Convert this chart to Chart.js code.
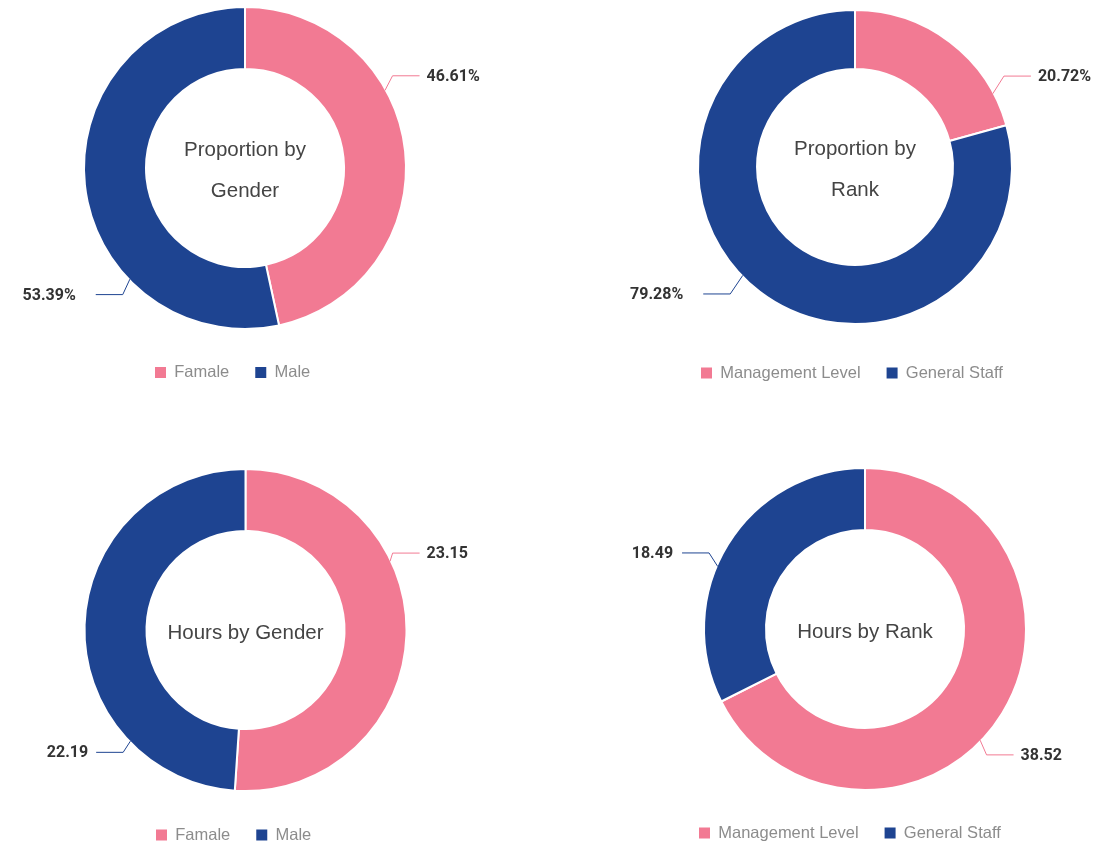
<!DOCTYPE html>
<html>
<head>
<meta charset="utf-8">
<script src="https://cdn.jsdelivr.net/npm/chart.js@4.4.0/dist/chart.umd.min.js"></script>
<style>
  html, body { margin: 0; padding: 0; background: #fff; overflow: hidden; }
  body { width: 1113px; height: 846px; position: relative; }
  .panel { position: absolute; }
  .panel canvas { display: block; }
</style>
</head>
<body>
<div class="panel" id="p1"><canvas id="genderShareChart"></canvas></div>
<div class="panel" id="p2"><canvas id="rankShareChart"></canvas></div>
<div class="panel" id="p3"><canvas id="genderHoursChart"></canvas></div>
<div class="panel" id="p4"><canvas id="rankHoursChart"></canvas></div>
<script>
// Data
const genderLabels = ['Famale', 'Male'];
const rankLabels = ['Management Level', 'General Staff'];
const genderShare = [46.61, 53.39];
const rankShare = [20.72, 79.28];
const genderHours = [23.15, 22.19];
const rankHours = [38.52, 18.49];

const PINK = '#f27a93';
const BLUE = '#1e4491';

// Centre text + leader-line labels
const donutExtras = {
    id: 'donutExtras',
    afterDatasetsDraw(chart, args, opts) {
        const ctx = chart.ctx;
        const meta = chart.getDatasetMeta(0);
        const ds = chart.data.datasets[0];
        const first = meta.data[0];
        if (!first) return;
        const cx = first.x, cy = first.y;

        ctx.save();
        ctx.fillStyle = '#444';
        ctx.font = '20.5px "Liberation Sans", Arial, sans-serif';
        ctx.textAlign = 'center';
        ctx.textBaseline = 'middle';
        const lines = opts.title;
        const lh = 41;
        lines.forEach((t, k) => {
            ctx.fillText(t, cx, cy + 3 + (k - (lines.length - 1) / 2) * lh);
        });

        meta.data.forEach((arc, i) => {
            const [aStart, aElbow, ext] = opts.angles[i];
            const r = arc.outerRadius - 1;
            const s = aStart * Math.PI / 180, e = aElbow * Math.PI / 180;
            const x1 = cx + r * Math.sin(s), y1 = cy - r * Math.cos(s);
            const x2 = cx + (r + ext) * Math.sin(e), y2 = cy - (r + ext) * Math.cos(e);
            const dir = Math.sin(e) >= 0 ? 1 : -1;
            const x3 = x2 + dir * 27;
            ctx.strokeStyle = ds.backgroundColor[i];
            ctx.lineWidth = 1;
            ctx.beginPath();
            ctx.moveTo(x1, y1);
            ctx.lineTo(x2, y2);
            ctx.lineTo(x3, y2);
            ctx.stroke();

            ctx.fillStyle = '#333';
            ctx.font = 'bold 16px Roboto, "DejaVu Sans Condensed", sans-serif';
            ctx.textAlign = dir > 0 ? 'left' : 'right';
            const gap = dir > 0 ? 7 : opts.leftGap;
            ctx.fillText(opts.format(ds.data[i]), x3 + dir * gap, y2 + 1);
        });
        ctx.restore();
    }
};

function makeDonut(canvasId, panel, labels, values, setup) {
    const box = document.getElementById(panel.id);
    box.style.left = panel.left + 'px';
    box.style.top = panel.top + 'px';
    const canvas = document.getElementById(canvasId);
    canvas.width = panel.width;
    canvas.height = panel.height;
    canvas.style.width = panel.width + 'px';
    canvas.style.height = panel.height + 'px';
    return new Chart(canvas.getContext('2d'), {
        type: 'doughnut',
        data: {
            labels: labels,
            datasets: [{
                data: values,
                backgroundColor: [PINK, BLUE],
                borderColor: '#fff',
                borderWidth: 2,
                hoverOffset: 0
            }]
        },
        options: {
            responsive: false,
            maintainAspectRatio: false,
            animation: false,
            radius: setup.radius,
            cutout: setup.cutout,
            layout: { padding: panel.padding },
            plugins: {
                tooltip: { enabled: false },
                legend: {
                    position: 'bottom',
                    align: 'start',
                    labels: {
                        boxWidth: 11,
                        boxHeight: 11,
                        padding: 26,
                        color: '#8c8c8c',
                        font: { family: '"Liberation Sans", Arial, sans-serif', size: 16.5 },
                        generateLabels(chart) {
                            return Chart.overrides.doughnut.plugins.legend.labels.generateLabels(chart)
                                .map(item => ({ ...item, lineWidth: 0 }));
                        }
                    }
                },
                donutExtras: {
                    title: setup.title,
                    angles: setup.angles,
                    format: setup.format,
                    leftGap: setup.leftGap
                }
            }
        },
        plugins: [donutExtras]
    });
}

const pct = v => v.toFixed(2) + '%';
const num = v => v.toFixed(2);

// label line angles: [edge angle, elbow angle, elbow distance]
makeDonut('genderShareChart',
    { id: 'p1', left: 0, top: -3, width: 556, height: 394, padding: { left: 129, right: 195, top: 0.75, bottom: 0.25 } },
    genderLabels, genderShare,
    { radius: 161, cutout: '61.5%', title: ['Proportion by', 'Gender'], angles: [[61, 58, 14], [226, 224, 16]], format: pct, leftGap: 20 });

makeDonut('rankShareChart',
    { id: 'p2', left: 556, top: -5, width: 557, height: 397, padding: { left: 119, right: 78, top: 0.25, bottom: 0.75 } },
    rankLabels, rankShare,
    { radius: 157, cutout: '62.4%', title: ['Proportion by', 'Rank'], angles: [[62, 58.6, 18.5], [226, 224.5, 22]], format: pct, leftGap: 20 });

makeDonut('genderHoursChart',
    { id: 'p3', left: 0, top: 440, width: 556, height: 414, padding: { left: 130, right: 195, top: 19.25, bottom: 0.75 } },
    genderLabels, genderHours,
    { radius: 161, cutout: '61.5%', title: ['Hours by Gender'], angles: [[64.6, 62.4, 6], [226, 225, 13]], format: num, leftGap: 8 });

makeDonut('rankHoursChart',
    { id: 'p4', left: 556, top: 440, width: 557, height: 412, padding: { left: 117, right: 56, top: 19.25, bottom: 0.75 } },
    rankLabels, rankHours,
    { radius: 161, cutout: '61.5%', title: ['Hours by Rank'], angles: [[134, 136, 15], [293, 296, 13.5]], format: num, leftGap: 9 });
</script>
</body>
</html>
